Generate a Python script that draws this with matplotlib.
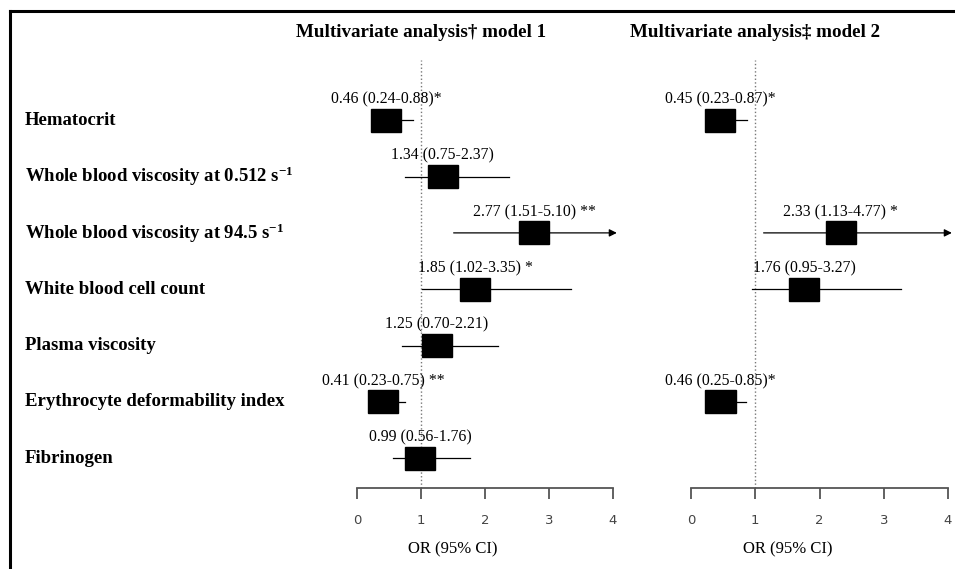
import numpy as np
import matplotlib
matplotlib.use("Agg")
import matplotlib.pyplot as plt
import matplotlib.transforms as mtransforms
from matplotlib.patches import Rectangle
from matplotlib.lines import Line2D

plt.rcParams["font.family"] = ["Liberation Serif", "DejaVu Serif"]
plt.rcParams["mathtext.default"] = "regular"

ROWS = [
    "Hematocrit",
    "Whole blood viscosity at 0.512 s$^{-1}$",
    "Whole blood viscosity at 94.5 s$^{-1}$",
    "White blood cell count",
    "Plasma viscosity",
    "Erythrocyte deformability index",
    "Fibrinogen",
]
TITLES = ["Multivariate analysis\u2020 model 1", "Multivariate analysis\u2021 model 2"]
TICKS = [0, 1, 2, 3, 4]
XLABEL = "OR (95% CI)"

nan = np.nan
M1_OR = [0.46, 1.34, 2.77, 1.85, 1.25, 0.41, 0.99]
M1_LO = [0.24, 0.75, 1.51, 1.02, 0.70, 0.23, 0.56]
M1_HI = [0.88, 2.37, 5.10, 3.35, 2.21, 0.75, 1.76]
M1_SIG = ["*", "", " **", " *", "", " **", ""]

M2_OR = [0.45, nan, 2.33, 1.76, nan, 0.46, nan]
M2_LO = [0.23, nan, 1.13, 0.95, nan, 0.25, nan]
M2_HI = [0.87, nan, 4.77, 3.27, nan, 0.85, nan]
M2_SIG = ["*", "", " *", "", "", "*", ""]

BOX_W = 0.47
BOX_H = 0.41
XMAX = 4.0
ARROW_END = 4.06

W, H = 955, 569
fig = plt.figure(figsize=(W / 100, H / 100), dpi=100)
fig.patch.set_facecolor("white")

ax_bottom = 1 - 488 / H
ax_height = (488 - 60) / H
ax1 = fig.add_axes([357 / W, ax_bottom, 256 / W, ax_height])
ax2 = fig.add_axes([691 / W, ax_bottom, 257 / W, ax_height])

ypos = np.arange(len(ROWS))


def draw_panel(ax, ors, los, his, sigs, title):
    ax.set_xlim(0, XMAX)
    ax.set_ylim(6.53, -1.07)
    for side in ["top", "left", "right"]:
        ax.spines[side].set_visible(False)
    ax.spines["bottom"].set_color("#555555")
    ax.spines["bottom"].set_linewidth(1.3)
    ax.set_yticks([])
    ax.set_xticks(TICKS)
    ax.tick_params(axis="x", direction="out", length=8, width=1.3, color="#555555",
                   pad=11, labelsize=9.5, labelcolor="#444444")
    for lab in ax.get_xticklabels():
        lab.set_fontfamily("DejaVu Sans")
    ax.axvline(1, color="#777777", linestyle=":", linewidth=1.0, zorder=1)

    for y, v, lo, hi, s in zip(ypos, ors, los, his, sigs):
        if np.isnan(v):
            continue
        if hi > XMAX:
            ax.annotate("", xy=(ARROW_END, y), xytext=(lo, y), annotation_clip=False,
                        arrowprops=dict(arrowstyle="-|>", color="black", lw=0.9,
                                        mutation_scale=11, shrinkA=0, shrinkB=0))
        else:
            ax.plot([lo, hi], [y, y], color="black", linewidth=0.9, zorder=2)
        ax.add_patch(Rectangle((v - BOX_W / 2, y - BOX_H / 2), BOX_W, BOX_H,
                               facecolor="black", edgecolor="black", zorder=3))
        ax.text(v, y - 0.37, f"{v:.2f} ({lo:.2f}-{hi:.2f}){s}", ha="center", va="center",
                fontsize=11.3, clip_on=False)

    tr = mtransforms.blended_transform_factory(ax.transData, ax.transAxes)
    ax.text(1, 1.065, title, transform=tr, ha="center", va="center",
            fontsize=13.7, fontweight="bold")
    ax.text(1.5, -0.143, XLABEL, transform=tr, ha="center", va="center", fontsize=12)


draw_panel(ax1, M1_OR, M1_LO, M1_HI, M1_SIG, TITLES[0])
draw_panel(ax2, M2_OR, M2_LO, M2_HI, M2_SIG, TITLES[1])

# row labels
tr_rows = mtransforms.blended_transform_factory(fig.transFigure, ax1.transData)
for y, name in zip(ypos, ROWS):
    fig.text(25 / W, y, name, transform=tr_rows, ha="left", va="center",
             fontsize=13.5, fontweight="bold")

# frame (left and top)
fig.add_artist(Line2D([9.5 / W, 9.5 / W], [0, 1 - 11 / H], color="black", linewidth=2.2,
                      transform=fig.transFigure))
fig.add_artist(Line2D([9.5 / W, 1], [1 - 11 / H, 1 - 11 / H], color="black", linewidth=2.2,
                      transform=fig.transFigure))

fig.savefig("out.png", dpi=100)
